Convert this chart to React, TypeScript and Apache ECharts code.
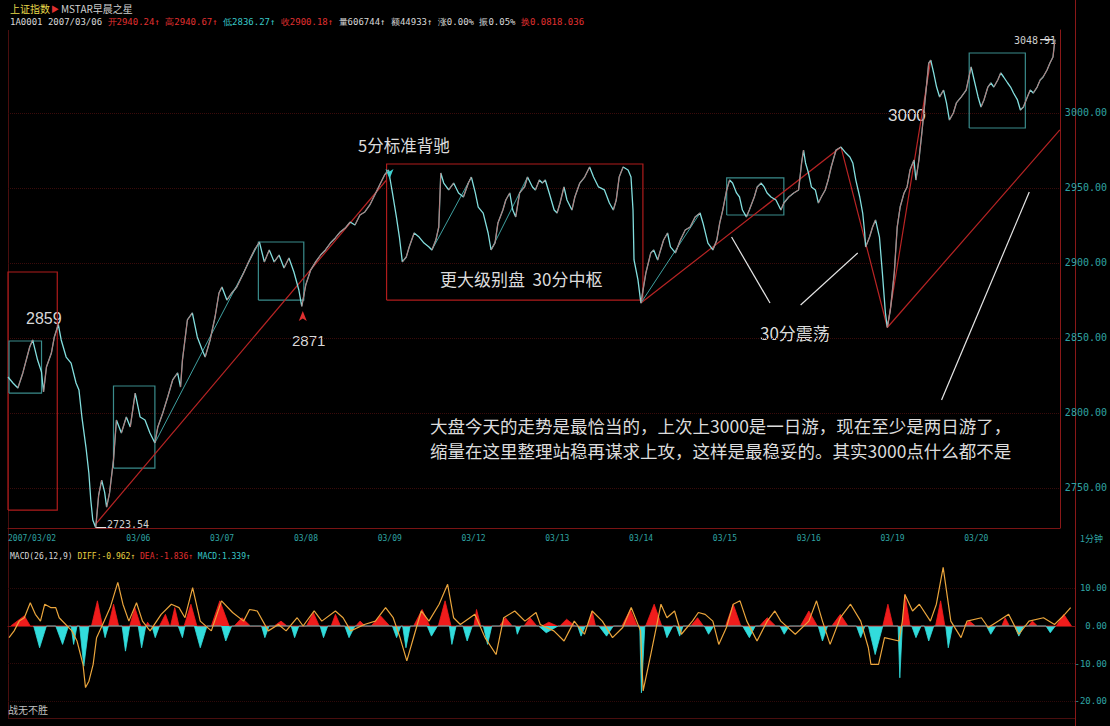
import React, { useEffect, useRef } from "react";
import * as echarts from "echarts";

// ---- axes (time unit = trading day; 03/02 = day 0 ... 03/20 = day 12) ----
const T_MIN = 0.588;
const T_MAX = 13.141;
const dayTicks = [0.588, 2, 3, 4, 5, 6, 7, 8, 9, 10, 11, 12];
const dayLabels = ["2007/03/02", "03/06", "03/07", "03/08", "03/09", "03/12", "03/13", "03/14", "03/15", "03/16", "03/19", "03/20"];
const priceTicks = [2750, 2800, 2850, 2900, 2950, 3000];
const PRICE_MIN = 2723.33;
const PRICE_MAX = 3055.33;
const macdTicks = [-20, -10, 0, 10];
const MACD_MIN = -24.5;
const MACD_MAX = 20.5;

// ---- 上证指数 1-minute path [day, price] ----
const pricePoints: [number, number][] = [
  [0.588, 2824.0], [0.647, 2820.0], [0.706, 2816.7], [0.765, 2826.7], [0.847, 2844.0], [0.882, 2848.7], [0.941, 2835.3], [0.988, 2827.3], [1.012, 2814.0], [1.047, 2830.7], [1.106, 2840.0], [1.141, 2850.7], [1.188, 2859.0],
  [1.223, 2848.7], [1.282, 2837.3], [1.341, 2833.3], [1.400, 2820.0], [1.435, 2815.3], [1.470, 2797.3], [1.518, 2777.3], [1.553, 2760.0], [1.576, 2742.0], [1.600, 2728.7], [1.635, 2723.54],
  [1.670, 2745.3], [1.706, 2755.3], [1.741, 2747.3], [1.765, 2737.3], [1.800, 2746.7], [1.847, 2768.7], [1.882, 2795.3], [1.941, 2786.7], [2.000, 2797.3], [2.047, 2790.7], [2.106, 2813.3], [2.165, 2797.3], [2.223, 2795.3], [2.282, 2786.7], [2.341, 2780.0], [2.376, 2790.7], [2.435, 2800.0], [2.494, 2810.7], [2.553, 2822.0], [2.612, 2826.7], [2.647, 2817.3], [2.670, 2835.3], [2.729, 2862.0], [2.788, 2866.7], [2.847, 2850.7], [2.906, 2842.0], [2.941, 2837.3], [3.000, 2848.7], [3.059, 2864.0], [3.106, 2880.0], [3.141, 2884.0], [3.200, 2875.3], [3.259, 2880.0], [3.318, 2884.0], [3.400, 2893.3], [3.470, 2902.0], [3.529, 2908.7], [3.588, 2914.0], [3.647, 2900.7], [3.706, 2908.7], [3.765, 2900.7], [3.823, 2905.3], [3.882, 2896.7], [3.941, 2903.3], [4.000, 2894.0], [4.059, 2882.0], [4.094, 2871.0],
  [4.141, 2885.3], [4.200, 2895.3], [4.259, 2900.7], [4.318, 2905.3], [4.376, 2908.7], [4.435, 2913.3], [4.494, 2916.7], [4.553, 2920.7], [4.612, 2923.3], [4.670, 2927.3], [4.729, 2925.3], [4.788, 2932.0], [4.847, 2934.0], [4.906, 2938.7], [4.965, 2945.3], [5.023, 2952.0], [5.082, 2958.7], [5.129, 2962.0],
  [5.176, 2946.7], [5.223, 2930.7], [5.259, 2917.3], [5.294, 2900.7], [5.341, 2904.0], [5.376, 2910.7], [5.435, 2920.0], [5.494, 2917.3], [5.553, 2913.3], [5.612, 2910.7], [5.647, 2908.7], [5.694, 2915.3], [5.729, 2924.0], [5.753, 2960.0], [5.788, 2953.3], [5.847, 2948.7], [5.906, 2953.3], [5.965, 2946.7], [6.023, 2944.0], [6.082, 2953.3], [6.118, 2957.3], [6.165, 2946.7], [6.200, 2937.3], [6.259, 2933.3], [6.318, 2920.0], [6.353, 2908.7], [6.400, 2913.3], [6.435, 2926.7], [6.494, 2935.3], [6.529, 2942.0], [6.576, 2946.7], [6.612, 2935.3], [6.647, 2930.7], [6.694, 2946.7], [6.753, 2950.7], [6.788, 2957.3], [6.847, 2950.7], [6.882, 2948.7], [6.929, 2955.3], [6.965, 2953.3], [7.000, 2955.3], [7.047, 2946.7], [7.106, 2935.3], [7.141, 2933.3], [7.176, 2940.0], [7.223, 2950.7], [7.259, 2942.0], [7.318, 2935.3], [7.353, 2944.0], [7.412, 2953.3], [7.470, 2957.3], [7.529, 2964.0], [7.576, 2957.3], [7.635, 2950.7], [7.706, 2948.7], [7.765, 2940.0], [7.812, 2935.3], [7.847, 2942.0], [7.882, 2957.3], [7.929, 2964.0], [7.988, 2962.0], [8.023, 2957.3], [8.047, 2935.3], [8.059, 2902.0], [8.106, 2888.7], [8.141, 2873.3],
  [8.200, 2893.3], [8.259, 2906.7], [8.294, 2908.7], [8.341, 2902.0], [8.376, 2908.7], [8.412, 2915.3], [8.459, 2920.0], [8.494, 2910.7], [8.553, 2906.7], [8.612, 2915.3], [8.670, 2922.0], [8.729, 2924.0], [8.788, 2930.7], [8.847, 2933.3], [8.882, 2926.7], [8.941, 2913.3], [9.000, 2908.7], [9.047, 2915.3], [9.082, 2926.7], [9.118, 2935.3], [9.165, 2948.7], [9.200, 2955.3], [9.235, 2953.3], [9.282, 2946.7], [9.318, 2944.0], [9.353, 2935.3], [9.400, 2930.7], [9.435, 2935.3], [9.494, 2944.0], [9.529, 2950.7], [9.576, 2953.3], [9.612, 2950.7], [9.647, 2946.7], [9.694, 2944.0], [9.753, 2942.0], [9.812, 2935.3], [9.847, 2940.0], [9.906, 2944.0], [9.965, 2946.7], [10.023, 2948.7], [10.059, 2966.7], [10.082, 2975.3], [10.106, 2966.7], [10.141, 2960.0], [10.176, 2950.7], [10.223, 2948.7], [10.259, 2940.0], [10.294, 2944.0], [10.341, 2948.7], [10.376, 2955.3], [10.412, 2964.0], [10.470, 2975.3], [10.529, 2977.3], [10.588, 2973.3], [10.635, 2970.7], [10.670, 2966.7], [10.706, 2955.3], [10.753, 2944.0], [10.788, 2933.3], [10.812, 2920.0], [10.823, 2910.7], [10.870, 2917.3], [10.906, 2924.0], [10.941, 2928.7], [10.988, 2917.3], [11.023, 2893.3], [11.059, 2866.7], [11.082, 2857.0],
  [11.118, 2868.7], [11.165, 2893.3], [11.200, 2924.0], [11.235, 2937.3], [11.282, 2946.7], [11.318, 2950.7], [11.353, 2962.0], [11.400, 2968.7], [11.423, 2955.3], [11.459, 2968.7], [11.494, 2986.7], [11.529, 3006.7], [11.576, 3033.3], [11.600, 3035.3], [11.635, 3026.7], [11.670, 3017.3], [11.706, 3010.7], [11.753, 3015.3], [11.788, 3006.7], [11.823, 2995.3], [11.870, 3000.0], [11.906, 3006.7], [11.965, 3010.7], [12.023, 3015.3], [12.082, 3030.7], [12.118, 3022.0], [12.165, 3010.7], [12.200, 3004.0], [12.235, 3008.7], [12.282, 3017.3], [12.318, 3020.0], [12.353, 3017.3], [12.400, 3022.0], [12.435, 3026.7], [12.470, 3024.0], [12.518, 3020.0], [12.553, 3017.3], [12.588, 3013.3], [12.635, 3008.7], [12.670, 3002.0], [12.706, 3004.0], [12.753, 3010.7], [12.788, 3015.3], [12.823, 3013.3], [12.870, 3017.3], [12.906, 3022.0], [12.941, 3024.0], [12.988, 3028.7], [13.023, 3033.3], [13.059, 3037.3], [13.082, 3048.91],
];

// ---- 缠论 strokes / segments ----
const redStrokes: [number, number][][] = [
  [[1.635, 2726.0], [5.10, 2955.0]],
  [[8.141, 2873.3], [10.529, 2977.3]],
  [[10.529, 2977.3], [11.082, 2857.0], [11.600, 3035.3]],
  [[11.082, 2857.0], [13.141, 2988.7]],
];
const tealStrokes: [number, number][][] = [
  [[2.341, 2780.0], [3.588, 2914.0]],
  [[5.647, 2908.7], [6.118, 2957.3]],
  [[6.353, 2908.7], [6.788, 2957.3]],
  [[8.141, 2873.3], [8.847, 2933.3]],
];
const whiteStrokes: [number, number][][] = [
  [[9.223, 2917.3], [9.682, 2873.3]],
  [[10.047, 2872.0], [10.729, 2906.7]],
  [[11.729, 2808.7], [12.776, 2947.3]],
  [[1.64, 2723.54], [1.76, 2723.54]],
  [[12.906, 3048.91], [13.059, 3048.91]],
];
// boxes: [dayFrom, dayTo, priceLow, priceHigh]
const redBoxes: [number, number, number, number][] = [
  [0.588, 1.176, 2735.3, 2894.0],
  [5.106, 8.165, 2875.3, 2966.0],
];
const tealBoxes: [number, number, number, number][] = [
  [0.60, 0.988, 2813.3, 2848.0],
  [1.847, 2.341, 2763.3, 2818.0],
  [3.576, 4.118, 2875.3, 2914.0],
  [9.165, 9.847, 2932.0, 2956.7],
  [12.059, 12.729, 2990.0, 3040.0],
];

// ---- MACD(26,12,9) histogram lumps: [start, peakDay, end, value] ----
const macdUp: [number, number, number, number][] = [
  [0.62, 0.78, 0.85, 2.7], [1.57, 1.64, 1.70, 6.7], [1.77, 1.83, 1.89, 5.8], [2.02, 2.08, 2.15, 4.9], [2.21, 2.23, 2.26, 1.0],
  [2.37, 2.44, 2.49, 3.1], [2.50, 2.55, 2.60, 4.9], [2.66, 2.74, 2.81, 5.8], [2.98, 3.08, 3.19, 6.7], [3.25, 3.34, 3.44, 2.2],
  [3.72, 3.80, 3.87, 1.3], [4.10, 4.18, 4.25, 3.6], [4.39, 4.44, 4.50, 3.1], [4.68, 4.73, 4.79, 1.3], [4.86, 4.97, 5.08, 2.7],
  [5.36, 5.46, 5.55, 4.4], [5.65, 5.73, 5.80, 6.7], [6.07, 6.10, 6.15, 4.4], [6.37, 6.44, 6.52, 2.2], [6.66, 6.73, 6.81, 2.2],
  [6.87, 6.95, 7.05, 1.0], [7.08, 7.16, 7.26, 1.8], [7.41, 7.46, 7.50, 4.0], [7.81, 7.91, 7.99, 4.4], [8.09, 8.19, 8.28, 5.8],
  [8.62, 8.70, 8.77, 2.2], [9.03, 9.12, 9.21, 5.8], [9.43, 9.52, 9.62, 2.2], [9.91, 10.01, 10.11, 4.0], [10.28, 10.38, 10.47, 3.1],
  [10.88, 10.94, 11.00, 5.8], [11.11, 11.14, 11.20, 8.4], [11.50, 11.56, 11.61, 6.7], [11.83, 11.90, 11.97, 1.3], [12.28, 12.32, 12.37, 2.2],
  [12.59, 12.64, 12.70, 1.3], [12.92, 13.01, 13.10, 3.1],
];
const macdDown: [number, number, number, number][] = [
  [0.89, 0.96, 1.04, -5.8], [1.15, 1.23, 1.30, -4.9], [1.33, 1.36, 1.40, -4.9], [1.43, 1.48, 1.54, -10.7], [1.70, 1.73, 1.77, -3.1],
  [1.93, 1.97, 2.02, -6.7], [2.12, 2.16, 2.21, -5.8], [2.28, 2.32, 2.37, -3.1], [2.59, 2.64, 2.67, -3.1], [2.78, 2.85, 2.93, -5.8],
  [3.10, 3.15, 3.22, -4.0], [3.57, 3.61, 3.66, -3.1], [3.92, 3.96, 4.01, -3.1], [4.26, 4.30, 4.35, -3.1], [4.55, 4.60, 4.67, -3.1],
  [5.11, 5.16, 5.21, -3.1], [5.23, 5.27, 5.32, -5.8], [5.52, 5.57, 5.64, -2.7], [5.78, 5.81, 5.86, -4.9], [5.94, 5.99, 6.05, -4.0],
  [6.18, 6.23, 6.28, -4.9], [6.56, 6.58, 6.62, -2.2], [6.83, 6.92, 7.06, -1.8], [7.29, 7.33, 7.38, -2.7], [7.54, 7.63, 7.71, -2.7],
  [8.02, 8.04, 8.08, -17.8], [8.30, 8.34, 8.41, -3.1], [8.45, 8.49, 8.53, -2.7], [8.78, 8.83, 8.89, -2.2], [9.23, 9.31, 9.38, -3.1],
  [9.67, 9.72, 9.78, -2.2], [10.12, 10.17, 10.23, -4.0], [10.57, 10.62, 10.67, -3.1], [10.71, 10.79, 10.88, -7.6], [11.06, 11.08, 11.11, -13.8],
  [11.22, 11.27, 11.33, -3.1], [11.37, 11.42, 11.48, -4.0], [11.62, 11.65, 11.70, -5.8], [12.10, 12.15, 12.21, -2.2], [12.43, 12.48, 12.54, -2.7],
  [12.80, 12.85, 12.91, -1.8],
];
const diffLine: [number, number][] = [
  [0.60, -3.1], [0.66, -1.3], [0.72, 1.3], [0.78, 2.2], [0.85, 6.2], [0.91, 3.1], [0.97, 1.3], [1.02, 5.8], [1.09, 4.9], [1.15, 4.9], [1.19, 2.2],
  [1.34, -1.3], [1.40, -4.0], [1.47, -10.2], [1.50, -16.4], [1.54, -14.7], [1.59, -10.2], [1.63, -3.1], [1.72, 1.3], [1.79, 4.9], [1.88, 11.6],
  [1.94, 5.8], [2.01, 1.3], [2.10, 6.2], [2.17, 1.3], [2.26, -1.3], [2.39, 3.1], [2.51, 5.8], [2.60, 4.9], [2.67, 2.2], [2.76, 10.2], [2.85, 1.3],
  [2.98, -1.3], [3.10, 6.7], [3.23, 3.6], [3.36, 1.3], [3.43, 4.4], [3.52, 4.0], [3.65, -1.3], [3.77, 0.4], [3.86, -1.3], [3.99, 2.2], [4.06, 0],
  [4.19, 4.0], [4.28, 1.3], [4.44, 4.0], [4.53, 2.2], [4.62, -1.3], [4.78, 0.4], [4.91, 1.3], [5.03, 4.9], [5.12, 2.2], [5.20, -3.1], [5.28, -9.3],
  [5.37, -2.2], [5.45, 4.0], [5.54, 1.3], [5.66, 5.8], [5.76, 11.1], [5.83, 2.2], [5.91, 0.4], [6.08, 3.1], [6.20, -3.1], [6.33, -7.6], [6.42, 2.2],
  [6.55, 4.0], [6.67, 1.3], [6.80, 3.6], [6.85, 0.4], [7.01, -1.3], [7.13, -4.0], [7.25, 1.3], [7.37, -2.2], [7.46, 4.0], [7.58, 1.3], [7.70, -3.1],
  [7.82, -0.4], [7.92, 4.9], [8.03, -1.3], [8.06, -17.3], [8.15, -7.6], [8.27, 5.8], [8.34, 2.2], [8.43, 4.0], [8.51, -2.2], [8.64, 1.3], [8.71, 3.6],
  [8.79, 3.1], [8.88, 1.3], [8.95, -4.9], [9.04, -0.4], [9.12, 5.8], [9.20, 6.7], [9.28, 1.3], [9.40, -4.0], [9.52, 1.3], [9.61, 4.0], [9.68, 1.3],
  [9.85, -2.2], [10.01, 1.3], [10.10, 6.7], [10.17, 1.3], [10.26, -4.9], [10.38, 2.2], [10.50, 5.8], [10.62, 1.3], [10.71, -5.8], [10.74, -10.2],
  [10.83, -10.2], [10.90, -3.1], [11.07, -4.0], [11.11, 1.3], [11.14, 8.4], [11.23, 4.0], [11.31, 5.8], [11.44, 1.3], [11.51, 5.8], [11.59, 15.6],
  [11.68, 1.3], [11.80, -3.1], [11.87, 1.3], [12.04, 2.2], [12.12, -0.4], [12.24, 1.3], [12.36, 3.1], [12.48, -2.2], [12.60, 1.3], [12.77, 2.2],
  [12.90, 0.4], [13.02, 3.1], [13.09, 4.9],
];

// ---- texts ----
const headerLine1 = ["上证指数", "▶", "MSTAR早晨之星"];
const headerLine2 = [
  ["w", "1A0001 2007/03/06 "], ["r", "开2940.24↑ "], ["r", "高2940.67↑ "], ["c", "低2836.27↑ "], ["r", "收2900.18↑ "],
  ["w", "量606744↑ 额44933↑ 涨0.00% 振0.05% "], ["r", "换0.0818.036"],
];
const macdHeader = [["w", "MACD(26,12,9) "], ["y", "DIFF:-0.962↑ "], ["r", "DEA:-1.836↑ "], ["c", "MACD:1.339↑"]];
const noteLine1 = "大盘今天的走势是最恰当的，上次上3000是一日游，现在至少是两日游了，";
const noteLine2 = "缩量在这里整理站稳再谋求上攻，这样是最稳妥的。其实3000点什么都不是";

const CJK = '"Noto Sans CJK SC", "Liberation Sans", sans-serif';
const MONO = '"DejaVu Sans Mono", monospace';
const SANS = '"Liberation Sans", sans-serif';

function boxCoords(b: [number, number, number, number]) {
  const [t1, t2, lo, hi] = b;
  return [[t1, lo], [t2, lo], [t2, hi], [t1, hi], [t1, lo]];
}
function lumps(list: [number, number, number, number][]) {
  const out: [number, number][] = [];
  list.forEach(([a, p, b, v]) => {
    out.push([a, 0], [p, v], [b, 0]);
  });
  return out;
}
function linesSeries(name: string, polylines: number[][][], color: string, width: number, z = 3, opacity = 1) {
  return {
    name,
    type: "lines",
    coordinateSystem: "cartesian2d",
    xAxisIndex: 0,
    yAxisIndex: 0,
    polyline: true,
    silent: true,
    z,
    lineStyle: { color, width, opacity },
    data: polylines.map((c) => ({ coords: c })),
  };
}

function buildOption() {
  const upSegs: number[][][] = [];
  for (let i = 1; i < pricePoints.length; i++) {
    if (pricePoints[i][1] > pricePoints[i - 1][1]) upSegs.push([pricePoints[i - 1], pricePoints[i]]);
  }
  const dayFmt = (v: number) => {
    const i = dayTicks.findIndex((d) => Math.abs(d - v) < 1e-6);
    return i >= 0 ? dayLabels[i] : "";
  };
  const rich = {
    w: { fill: "#d8d8d8", font: `9px ${MONO}` },
    r: { fill: "#e03030", font: `9px ${MONO}` },
    c: { fill: "#38c8c8", font: `9px ${MONO}` },
    y: { fill: "#e8d040", font: `9px ${MONO}` },
  };
  const richSmall = {
    w: { fill: "#d8d8d8", font: `8px ${MONO}` },
    r: { fill: "#e03030", font: `8px ${MONO}` },
    c: { fill: "#38c8c8", font: `8px ${MONO}` },
    y: { fill: "#e8d040", font: `8px ${MONO}` },
  };
  const txt = (x: number, y: number, text: string, size: number, fill = "#dcdcdc", family = CJK) => ({
    type: "text",
    x,
    y,
    silent: true,
    style: { text, fill, font: `${size}px ${family}`, verticalAlign: "middle" },
  });

  return {
    animation: false,
    backgroundColor: "#000000",
    grid: [
      { left: 8, right: 35, top: 30, bottom: 198 },
      { left: 8, right: 35, top: 549, bottom: 8 },
    ],
    xAxis: [
      {
        gridIndex: 0, type: "value", min: T_MIN, max: T_MAX,
        axisLine: { show: true, lineStyle: { color: "#7a1414" } },
        axisTick: { show: false },
        splitLine: { show: false },
        axisLabel: {
          customValues: dayTicks, formatter: dayFmt, color: "#2fa3a3", fontSize: 8, fontFamily: "DejaVu Sans Mono",
          align: "left", margin: 6, hideOverlap: false,
        },
      },
      {
        gridIndex: 1, type: "value", min: T_MIN, max: T_MAX, position: "top",
        axisLine: { show: true, lineStyle: { color: "#7a1414" } },
        axisTick: { show: false }, axisLabel: { show: false }, splitLine: { show: false },
      },
    ],
    yAxis: [
      {
        gridIndex: 0, type: "value", position: "right", min: PRICE_MIN, max: PRICE_MAX,
        axisLine: { show: true, onZero: false, lineStyle: { color: "#8a1818" } },
        axisTick: { show: false, customValues: priceTicks },
        axisLabel: { customValues: priceTicks, formatter: (v: number) => v.toFixed(2), color: "#2fa3a3", fontSize: 10, fontFamily: "DejaVu Sans Mono", margin: 5 },
        splitLine: { show: true, lineStyle: { color: "#3a0b0b", type: "dotted" } },
      },
      {
        gridIndex: 1, type: "value", position: "right", min: MACD_MIN, max: MACD_MAX,
        axisLine: { show: true, onZero: false, lineStyle: { color: "#8a1818" } },
        axisTick: { show: false, customValues: macdTicks },
        axisLabel: { customValues: macdTicks, formatter: (v: number) => v.toFixed(2), color: "#2fa3a3", fontSize: 9, fontFamily: "DejaVu Sans Mono", align: "right", margin: 32 },
        splitLine: { show: true, lineStyle: { color: "#2e0909", type: "dotted" } },
      },
    ],
    series: [
      linesSeries("redBoxes", redBoxes.map(boxCoords), "#b01c1c", 1.2, 2),
      linesSeries("tealBoxes", tealBoxes.map(boxCoords), "#3a8c8c", 1.2, 2),
      linesSeries("redStrokes", redStrokes, "#b82424", 1.2, 3),
      linesSeries("tealStrokes", tealStrokes, "#3fa0a0", 1, 3),
      {
        name: "price", type: "line", xAxisIndex: 0, yAxisIndex: 0, data: pricePoints, showSymbol: false, symbol: "none",
        lineStyle: { color: "#82dede", width: 1.3 }, z: 4, silent: true,
        markPoint: {
          symbol: "arrow", symbolSize: [6, 10], silent: true, label: { show: false },
          data: [
            { coord: [5.141, 2956.0], symbolRotate: 180, itemStyle: { color: "#3fd0d0" } },
            { coord: [4.106, 2868.0], itemStyle: { color: "#e03030" } },
          ],
        },
      },
      linesSeries("priceUp", upSegs, "#d83030", 1, 5, 0.6),
      linesSeries("whiteStrokes", whiteStrokes, "#e6e6e6", 1.2, 6),
      {
        name: "macdUp", type: "line", xAxisIndex: 1, yAxisIndex: 1, data: lumps(macdUp), showSymbol: false, symbol: "none",
        lineStyle: { color: "#f01c1c", width: 0.8 }, areaStyle: { color: "#f01c1c", opacity: 1 }, z: 2, silent: true,
      },
      {
        name: "macdDown", type: "line", xAxisIndex: 1, yAxisIndex: 1, data: lumps(macdDown), showSymbol: false, symbol: "none",
        lineStyle: { color: "#32dcdc", width: 0.8 }, areaStyle: { color: "#32dcdc", opacity: 1 }, z: 2, silent: true,
      },
      {
        name: "DIFF", type: "line", xAxisIndex: 1, yAxisIndex: 1, data: diffLine, showSymbol: false, symbol: "none",
        lineStyle: { color: "#eaa53c", width: 1.2 }, z: 3, silent: true,
      },
    ],
    graphic: [
      { type: "line", silent: true, shape: { x1: 1075.5, y1: 0, x2: 1075.5, y2: 726 }, style: { stroke: "#8a1818", lineWidth: 1 } },
      { type: "line", silent: true, shape: { x1: 8.5, y1: 30, x2: 8.5, y2: 718 }, style: { stroke: "#4a0e0e", lineWidth: 1 } },
      { type: "line", silent: true, shape: { x1: 8, y1: 718.5, x2: 1075, y2: 718.5 }, style: { stroke: "#4a0e0e", lineWidth: 1 } },
      txt(10, 8, headerLine1[0], 10, "#e8d84a"),
      txt(51, 8, headerLine1[1], 8, "#e03030"),
      txt(61, 8, headerLine1[2], 10, "#d0d0d0"),
      {
        type: "text", x: 10, y: 22, silent: true,
        style: { text: headerLine2.map(([k, s]) => `{${k}|${s}}`).join(""), rich, font: `9px ${MONO}`, verticalAlign: "middle" },
      },
      {
        type: "text", x: 10, y: 556, silent: true,
        style: { text: macdHeader.map(([k, s]) => `{${k}|${s}}`).join(""), rich: richSmall, font: `8px ${MONO}`, verticalAlign: "middle" },
      },
      txt(1080, 538, "1分钟", 9, "#2fa3a3"),
      txt(8, 709, "战无不胜", 10, "#c0c0c0"),
      txt(26, 318, "2859", 16, "#d8d8d8", SANS),
      txt(292, 340, "2871", 15, "#d8d8d8", SANS),
      txt(107, 524, "2723.54", 10, "#d0d0d0", MONO),
      txt(1014, 40, "3048.91", 10, "#d0d0d0", MONO),
      txt(358, 145, "5分标准背驰", 16.5),
      txt(440, 278, "更大级别盘  30分中枢", 17),
      txt(760, 332, "30分震荡", 17),
      txt(888, 115, "3000", 17, "#dcdcdc", SANS),
      txt(430, 425, noteLine1, 17.5),
      txt(430, 450, noteLine2, 17.5),
    ],
  };
}

export default function App() {
  const ref = useRef<HTMLDivElement>(null);
  useEffect(() => {
    if (!ref.current) return;
    const chart = echarts.init(ref.current, null, { renderer: "svg" });
    chart.setOption(buildOption() as any);
    return () => chart.dispose();
  }, []);
  return (
    <div
      ref={ref}
      style={{ position: "absolute", left: 0, top: 0, width: 1110, height: 726, background: "#000" }}
    />
  );
}
